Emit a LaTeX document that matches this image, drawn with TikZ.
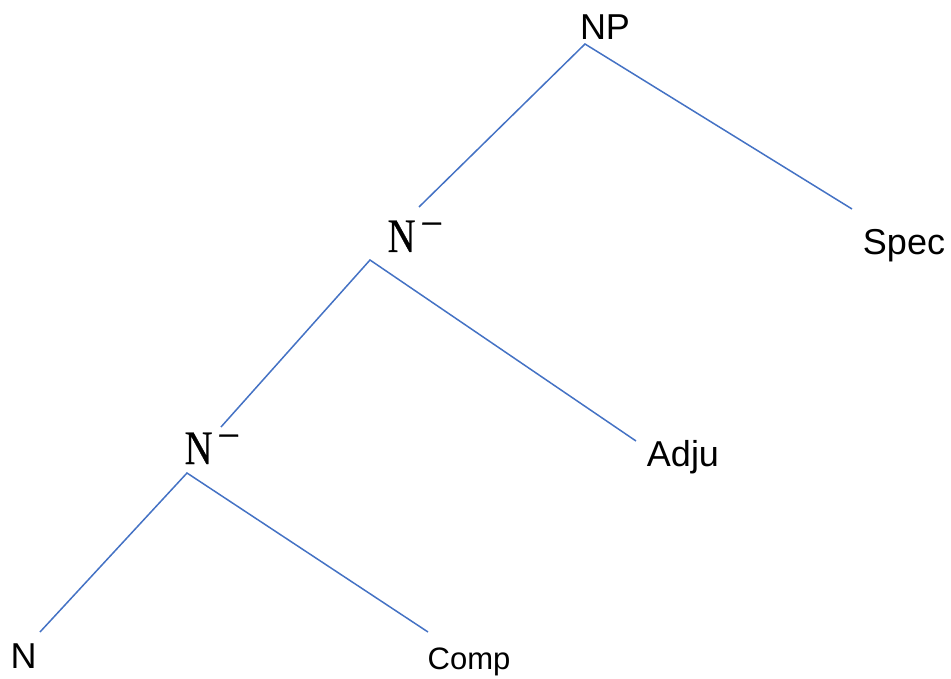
\documentclass[tikz,border=0pt]{standalone}
\usepackage{fontspec}
\setmainfont{Liberation Sans}
\newfontfamily\barfont[FakeBold=0.6]{Liberation Serif}
\definecolor{linkblue}{HTML}{4472C4}
\newcommand{\nbar}{{\barfont\fontsize{48}{48}\selectfont\scalebox{0.8}[1]{N}\kern5pt\raisebox{15pt}{\fontsize{40}{40}\selectfont −}}}
\begin{document}
\begin{tikzpicture}[x=1pt,y=-1pt,
  lbl/.style={inner sep=0pt, anchor=base, text=black, font=\fontsize{36}{40}\selectfont},
  bar/.style={inner sep=0pt, anchor=base west, text=black},
  edge/.style={draw=linkblue, line width=1.5pt}]
\useasboundingbox (0,0) rectangle (951,679);
% labels
\node[lbl] (np) at (605,40) {NP};
\node[bar] (nb1) at (387.5,252) {\nbar};
\node[lbl] (spec) at (904,255) {Spec};
\node[bar] (nb2) at (184.5,464) {\nbar};
\node[lbl] (adju) at (683,466) {Adju};
\node[lbl] (n) at (23.5,668) {N};
\node[lbl, font=\fontsize{31}{34}\selectfont] (comp) at (469,669) {Comp};
% connector ends
\coordinate (np-b) at (585,44);
\coordinate (nb1-t) at (419,207);
\coordinate (spec-t) at (852,209);
\coordinate (nb1-b) at (370,260);
\coordinate (nb2-t) at (221,427);
\coordinate (adju-t) at (636,441);
\coordinate (nb2-b) at (187,473);
\coordinate (n-t) at (40,632);
\coordinate (comp-t) at (428,632);
\draw[edge] (nb1-t) -- (np-b) -- (spec-t);
\draw[edge] (nb2-t) -- (nb1-b) -- (adju-t);
\draw[edge] (n-t) -- (nb2-b) -- (comp-t);
\end{tikzpicture}
\end{document}
